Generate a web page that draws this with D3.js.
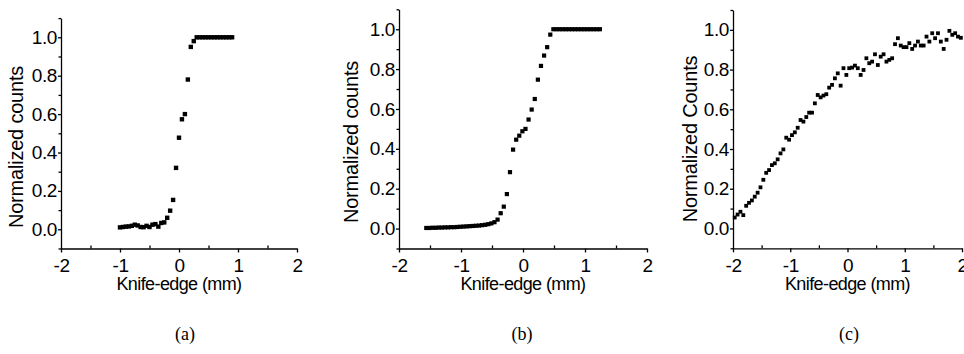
<!DOCTYPE html>
<html>
<head>
<meta charset="utf-8">
<script src="https://cdnjs.cloudflare.com/ajax/libs/d3/7.8.5/d3.min.js"></script>
<style>
  body { margin: 0; background: #fff; }
  svg { display: block; background: #fff; }
  .axis path, .axis line { stroke: #000; stroke-width: 1.3px; }
  .axis text { fill: #000; font-family: "Liberation Sans", Arial, sans-serif; font-size: 19px; letter-spacing: -0.4px; }
  .title { font-family: "Liberation Sans", Arial, sans-serif; fill: #000; }
  .plabel { font-family: "Liberation Serif", "Times New Roman", serif; font-size: 18px; fill: #000; }
</style>
</head>
<body>
<svg id="fig" width="964" height="354"></svg>
<script>
// panel (a)
var aX = [-1.00,-0.95,-0.90,-0.85,-0.80,-0.75,-0.70,-0.65,-0.60,-0.55,-0.50,-0.45,-0.40,-0.35,-0.30,-0.25,-0.20,-0.15,-0.10,-0.05,
          0.00,0.05,0.10,0.15,0.20,0.25,0.30,0.35,0.40,0.45,0.50,0.55,0.60,0.65,0.70,0.75,0.80,0.85,0.90];
var aY = [0.010,0.012,0.014,0.015,0.018,0.024,0.020,0.012,0.011,0.018,0.012,0.024,0.027,0.014,0.033,0.036,0.060,0.097,0.153,0.320,
          0.477,0.573,0.600,0.780,0.950,0.980,1.000,1.000,1.000,1.000,1.000,1.000,1.000,1.000,1.000,1.000,1.000,1.000,1.000];

// panel (b)
var bX = [-1.56,-1.51,-1.46,-1.41,-1.36,-1.31,-1.26,-1.21,-1.16,-1.11,-1.06,-1.01,-0.96,-0.91,-0.86,-0.81,-0.76,-0.71,-0.66,-0.61,
          -0.56,-0.51,-0.46,-0.41,-0.36,-0.31,-0.26,-0.21,-0.16,-0.11,-0.06,-0.01,0.04,0.09,0.14,0.19,0.24,0.29,0.34,0.39,
          0.44,0.49,0.54,0.59,0.64,0.69,0.74,0.79,0.84,0.89,0.94,0.99,1.04,1.09,1.14,1.19,1.24];
var bY = [0.003,0.003,0.004,0.004,0.005,0.005,0.006,0.006,0.007,0.007,0.008,0.009,0.010,0.011,0.012,0.013,0.014,0.015,0.017,0.019,
          0.022,0.026,0.032,0.045,0.077,0.110,0.173,0.283,0.396,0.446,0.466,0.488,0.500,0.547,0.597,0.650,0.747,0.816,0.868,0.910,
          0.973,1.000,1.000,1.000,1.000,1.000,1.000,1.000,1.000,1.000,1.000,1.000,1.000,1.000,1.000,1.000,1.000];

// panel (c)
var cX = [-1.97,-1.92,-1.87,-1.82,-1.77,-1.72,-1.67,-1.62,-1.57,-1.52,-1.47,-1.42,-1.37,-1.32,-1.27,-1.22,-1.17,-1.12,-1.07,-1.02,
          -0.97,-0.92,-0.87,-0.82,-0.77,-0.72,-0.67,-0.62,-0.57,-0.52,-0.47,-0.42,-0.37,-0.32,-0.27,-0.22,-0.17,-0.12,-0.07,-0.02,
          0.03,0.08,0.13,0.18,0.23,0.28,0.33,0.38,0.43,0.48,0.53,0.58,0.63,0.68,0.73,0.78,0.83,0.88,0.93,0.98,
          1.03,1.08,1.13,1.18,1.23,1.28,1.33,1.38,1.43,1.48,1.53,1.58,1.63,1.68,1.73,1.78,1.83,1.88,1.93,1.98];
var cY = [0.055,0.070,0.084,0.067,0.114,0.129,0.141,0.160,0.180,0.207,0.245,0.280,0.294,0.319,0.328,0.348,0.378,0.398,0.457,0.447,
          0.470,0.484,0.507,0.546,0.538,0.561,0.583,0.583,0.630,0.672,0.660,0.669,0.676,0.709,0.723,0.756,0.781,0.719,0.807,0.773,
          0.807,0.810,0.820,0.807,0.773,0.798,0.857,0.832,0.840,0.877,0.823,0.865,0.877,0.840,0.849,0.857,0.928,0.958,0.921,0.913,
          0.913,0.933,0.904,0.921,0.941,0.921,0.921,0.966,0.941,0.983,0.958,0.983,0.941,0.904,0.950,0.995,0.975,0.983,0.966,0.960];

var xMajor = [-2, -1, 0, 1, 2];
var xMinor = [-1.5, -0.5, 0.5, 1.5];
var yMajor = [0, 0.2, 0.4, 0.6, 0.8, 1.0];
var yMinor = [-0.1, 0.1, 0.3, 0.5, 0.7, 0.9, 1.1];

var panels = [
  { xs: aX, ys: aY, left: 61, right: 297, top: 18.1, bottom: 248.5, size: 4.4,
    title: "Normalized counts", titleX: 23, titleY: 147, label: "(a)", labelX: 185 },
  { xs: bX, ys: bY, left: 399, right: 647, top: 9.3, bottom: 248.5, size: 4.2,
    title: "Normalized counts", titleX: 358, titleY: 142, label: "(b)", labelX: 522 },
  { xs: cX, ys: cY, left: 733, right: 962, top: 10, bottom: 248.3, size: 3.8,
    title: "Normalized Counts", titleX: 697, titleY: 139, label: "(c)", labelX: 849 }
];

var svg = d3.select("#fig");

panels.forEach(function(p) {
  var xScale = d3.scaleLinear().domain([-2, 2]).range([p.left, p.right]);
  var yScale = d3.scaleLinear().domain([-0.1, 1.1]).range([p.bottom, p.top]);

  var g = svg.append("g");

  // minor ticks first, no labels
  g.append("g").attr("class", "axis")
    .attr("transform", "translate(0," + p.bottom + ")")
    .call(d3.axisTop(xScale).tickValues(xMinor).tickSize(3).tickSizeOuter(0).tickFormat(""))
    .select(".domain").remove();
  g.append("g").attr("class", "axis")
    .attr("transform", "translate(" + p.left + ",0)")
    .call(d3.axisLeft(yScale).tickValues(yMinor).tickSize(2.5).tickSizeOuter(0).tickFormat(""))
    .select(".domain").remove();

  // plain hyphen for negatives, as in the original figure
  g.append("g").attr("class", "axis")
    .attr("transform", "translate(0," + p.bottom + ")")
    .call(d3.axisBottom(xScale).tickValues(xMajor).tickSize(4).tickPadding(6).tickSizeOuter(0)
      .tickFormat(function(d) { return String(d); }));

  g.append("g").attr("class", "axis")
    .attr("transform", "translate(" + p.left + ",0)")
    .call(d3.axisLeft(yScale).tickValues(yMajor).tickSize(3).tickPadding(1).tickSizeOuter(0)
      .tickFormat(function(d) { return d.toFixed(1); }));

  g.selectAll("rect.pt")
    .data(p.xs.map(function(x, i) { return [x, p.ys[i]]; }))
    .enter().append("rect")
      .attr("class", "pt")
      .attr("x", function(d) { return xScale(d[0]) - p.size / 2; })
      .attr("y", function(d) { return yScale(d[1]) - p.size / 2; })
      .attr("width", p.size)
      .attr("height", p.size)
      .attr("fill", "#000");

  g.append("text").attr("class", "title")
    .attr("x", xScale(0)).attr("y", 290)
    .attr("text-anchor", "middle")
    .style("font-size", "18px").style("letter-spacing", "-0.6px")
    .text("Knife-edge (mm)");

  g.append("text").attr("class", "title")
    .attr("transform", "translate(" + p.titleX + "," + p.titleY + ") rotate(-90)")
    .attr("text-anchor", "middle")
    .style("font-size", "20px").style("letter-spacing", "-0.2px")
    .text(p.title);

  g.append("text").attr("class", "plabel")
    .attr("x", p.labelX).attr("y", 340)
    .attr("text-anchor", "middle")
    .text(p.label);
});
</script>
</body>
</html>
